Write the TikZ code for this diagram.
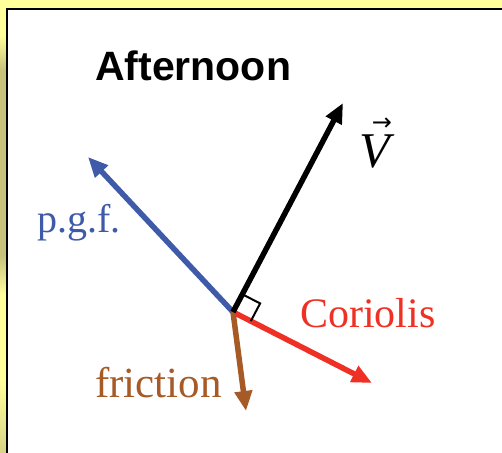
\documentclass[tikz,border=0pt]{standalone}
\usepackage{fontspec}
\setmainfont{Liberation Serif}
\newfontfamily\headfont{Liberation Sans}
\newfontfamily\symfont{DejaVu Sans}
\usetikzlibrary{arrows.meta,calc}
\definecolor{bgyellow}{HTML}{FFFF9C}
\definecolor{olive}{HTML}{C6C27B}
\definecolor{pgfblue}{HTML}{3F5AA8}
\definecolor{corred}{HTML}{EE3124}
\definecolor{fricbrown}{HTML}{A65A26}
\tikzset{
  vec/.style={line width=5.5pt, -{Triangle[length=20pt,width=17pt]}},
  lbl/.style={inner sep=0pt, anchor=base west},
}
\begin{document}
\begin{tikzpicture}[x=1pt,y=-1pt]
\useasboundingbox (0,0) rectangle (502,452);
% background
\fill[bgyellow] (0,0) rectangle (502,452);
\shade[top color=bgyellow, bottom color=olive] (0,35) rectangle (8,70);
\fill[olive] (0,70) rectangle (8,255);
\shade[top color=olive, bottom color=bgyellow] (0,255) rectangle (8,295);
\shade[top color=bgyellow, bottom color=olive!70!bgyellow] (0,380) rectangle (8,452);
% white panel
\draw[fill=white, line width=2.5pt] (7,9) rectangle (520,470);
% title
\node[lbl] (title) at (95,80) {\headfont\bfseries\fontsize{41}{41}\selectfont Afternoon};
% vectors
\coordinate (O) at (233,312);
\coordinate (V) at (343,103);
\coordinate (P) at (88,157);
\coordinate (C) at (372,383);
\coordinate (F) at (246,411);
\draw[vec, pgfblue] (O) -- (P);
\draw[vec, corred] (O) -- (C);
\draw[vec, fricbrown] (O) -- (F);
\draw[vec, black] (O) -- (V);
% right angle mark
\coordinate (ra) at ($(O)!20pt!(V)$);
\coordinate (rb) at ($(O)!20pt!(C)$);
\coordinate (rc) at ($(ra)+(rb)-(O)$);
\draw[line width=2pt, line join=miter] (ra) -- (rc) -- (rb);
% labels
\node[lbl, text=pgfblue] (lp) at (37,232) {\fontsize{40}{40}\selectfont p.g.f.};
\node[lbl, text=corred] (lc) at (300,327) {\fontsize{42}{42}\selectfont Coriolis};
\node[lbl, text=fricbrown] (lf) at (95,397) {\fontsize{43}{43}\selectfont friction};
\node[lbl] (lv) at (359,167) {\itshape\fontsize{50}{50}\selectfont V\kern-18pt\raisebox{37pt}{\upshape\symfont\fontsize{24}{24}\selectfont →}};
\end{tikzpicture}
\end{document}
